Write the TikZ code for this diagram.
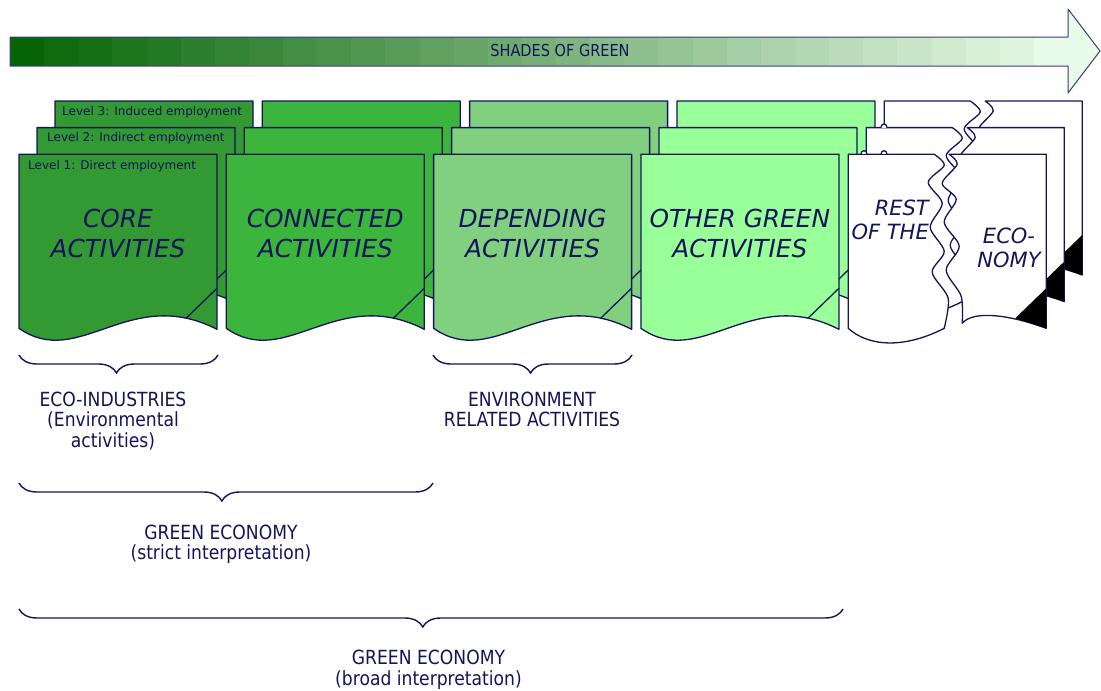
\documentclass[tikz,border=0pt]{standalone}
\usepackage{fontspec}
\setmainfont{DejaVu Sans}
\newfontfamily\narrowfont{DejaVu Sans}[FakeStretch=0.88]
\usetikzlibrary{decorations.pathreplacing}

\definecolor{inkblue}{HTML}{14145A}
\definecolor{arrowline}{HTML}{3C3C78}
\definecolor{darkend}{HTML}{066606}
\definecolor{lightend}{HTML}{E8FAE8}
\definecolor{corefill}{HTML}{339933}
\definecolor{connfill}{HTML}{3CB53C}
\definecolor{dependfill}{HTML}{80D080}
\definecolor{otherfill}{HTML}{99FF99}

\tikzset{
  sheet/.style={draw=inkblue, line width=1.3pt, line join=round},
  bigtext/.style={text=inkblue, inner sep=0pt, align=center, font=\fontsize{24.8}{29.2}\selectfont\itshape},
  resttext/.style={text=inkblue, inner sep=0pt, font=\fontsize{21}{24}\selectfont\itshape},
  leveltext/.style={text=inkblue, inner sep=0pt, anchor=base west, font=\fontsize{12}{14}\selectfont},
  labeltext/.style={text=inkblue, inner sep=0pt, anchor=north, align=center, font=\narrowfont\fontsize{19.5}{20.8}\selectfont},
  bracket/.style={draw=inkblue, line width=1.4pt, decorate, decoration={brace, mirror, amplitude=18pt, aspect=0.49}},
}

% one activity sheet, top left corner at (#1,#2)
\newcommand{\greensheet}[3]{%
  \begin{scope}[shift={(#1,#2)}]
    \draw[sheet, fill=#3] (0,0) -- (198,0) -- (198,175) .. controls (110,130) and (60,216) .. (0,174) -- cycle;
    \draw[sheet] (167,164) -- (198,134);
  \end{scope}}

% torn sheet of the rest of the economy
\newcommand{\restsheet}[2]{%
  \begin{scope}[shift={(#1,#2)}]
    \draw[sheet, fill=white] (0,0) -- (86,0) -- plot[smooth] coordinates {(86,0) (96,11) (80,28) (94,49) (82,73) (96,97) (84,118) (100,144) (96,174)}
      .. controls (55,195) and (20,192) .. (0,174) -- cycle;
    \draw[sheet, fill=white] (101,0) -- (198,0) -- (198,174) .. controls (160,160) and (125,156) .. (114,169)
      -- plot[smooth] coordinates {(114,169) (113,142) (98,116) (111,92) (96,68) (108,45) (94,29) (109,10) (101,0)} -- cycle;
    \fill[black] (167,164) -- (198,134) -- (198,174) -- cycle;
  \end{scope}}

\begin{document}
\begin{tikzpicture}[x=1pt, y=-1pt]
\useasboundingbox (0,0) rectangle (1101,691);

% shades of green arrow
\foreach \i in {0,...,30} {
  \pgfmathsetmacro\p{100*\i/30}
  \fill[lightend!\p!darkend] (10+\i*34.13,37) rectangle (10+\i*34.13+34.6,66);
}
\fill[lightend] (1068,37) -- (1068,9) -- (1100,51) -- (1068,93) -- (1068,66) -- cycle;
\draw[arrowline, line width=1pt, line join=round] (10,37) -- (1068,37) -- (1068,9) -- (1100,51) -- (1068,93) -- (1068,66) -- (10,66) -- cycle;
\node[text=inkblue, inner sep=0pt, font=\narrowfont\fontsize{16.5}{18}\selectfont] (shades) at (560,50) {SHADES OF GREEN};

% three levels of sheets, back to front
\foreach \dx/\dy in {36/-53.3, 18/-26.7, 0/0} {
  \greensheet{19+\dx}{154.3+\dy}{corefill}
  \greensheet{226.3+\dx}{154.3+\dy}{connfill}
  \greensheet{433.6+\dx}{154.3+\dy}{dependfill}
  \greensheet{640.9+\dx}{154.3+\dy}{otherfill}
  \restsheet{848.2+\dx}{154.3+\dy}
}

% line hops
\draw[sheet, fill=white] (861,154.3) .. controls (861,149.5) and (867,149.5) .. (867,154.3);
\draw[sheet, fill=white] (881,154.3) .. controls (881,149.5) and (887,149.5) .. (887,154.3);
\draw[sheet, fill=white] (881,127.6) .. controls (881,122.8) and (887,122.8) .. (887,127.6);

\node[leveltext] (lev3) at (62,115) {Level 3: Induced employment};
\node[leveltext] (lev2) at (47,141) {Level 2: Indirect employment};
\node[leveltext] (lev1) at (28,169) {Level 1: Direct employment};

\node[bigtext, anchor=north] (core) at (118,209.3) {CORE\\ACTIVITIES};
\node[bigtext, anchor=north] (connected) at (325.3,209.3) {CONNECTED\\ACTIVITIES};
\node[bigtext, anchor=north] (depending) at (532.6,209.3) {DEPENDING\\ACTIVITIES};
\node[bigtext, anchor=north] (othergreen) at (739.9,209.3) {OTHER GREEN\\ACTIVITIES};
\node[resttext, anchor=north east, align=right] (rest) at (929,200) {REST\\OF THE};
\node[resttext, anchor=north, align=center] (economy) at (1009,228) {ECO-\\NOMY};

% braces
\coordinate (ecoL) at (19,355);
\coordinate (ecoR) at (218,355);
\coordinate (envL) at (433,355);
\coordinate (envR) at (632,355);
\coordinate (strictL) at (19,483);
\coordinate (strictR) at (433,483);
\coordinate (broadL) at (19,609);
\coordinate (broadR) at (843,609);
\draw[bracket] (ecoL) -- (ecoR);
\draw[bracket] (envL) -- (envR);
\draw[bracket] (strictL) -- (strictR);
\draw[bracket] (broadL) -- (broadR);

\node[labeltext] (ecoind) at (113,391.5) {ECO-INDUSTRIES\\(Environmental\\activities)};
\node[labeltext] (envrel) at (532,391.5) {ENVIRONMENT\\RELATED ACTIVITIES};
\node[labeltext] (strict) at (221,524.5) {GREEN ECONOMY\\(strict interpretation)};
\node[labeltext] (broad) at (428.5,650) {GREEN ECONOMY\\(broad interpretation)};
\end{tikzpicture}
\end{document}
